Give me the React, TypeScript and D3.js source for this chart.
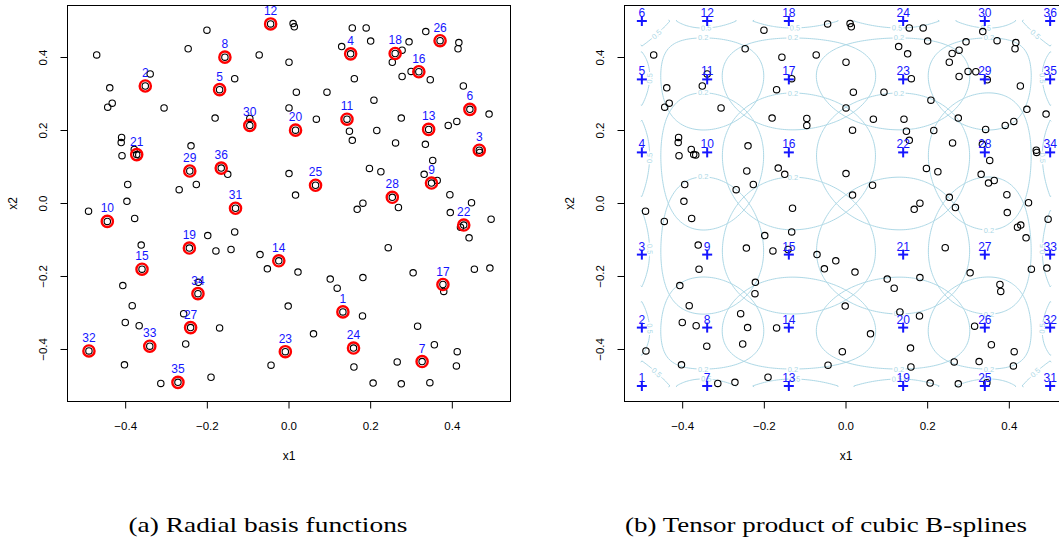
import React from "react";
import * as d3 from "d3";

const W = 1059;
const H = 544;
const DOMAIN: [number, number] = [-0.5425, 0.5425];
const TICKS = [-0.4, -0.2, 0, 0.2, 0.4];

// Radial basis centres (label = index + 1)
const centers: [number, number][] = [
  [0.132, -0.297], [-0.352, 0.322], [0.466, 0.146], [0.151, 0.41], [-0.17, 0.312],
  [0.443, 0.258], [0.326, -0.433], [-0.157, 0.401], [0.349, 0.056], [-0.445, -0.049],
  [0.142, 0.231], [-0.045, 0.492], [0.342, 0.203], [-0.025, -0.157], [-0.36, -0.18],
  [0.318, 0.361], [0.377, -0.222], [0.26, 0.411], [-0.244, -0.122], [0.016, 0.201],
  [-0.373, 0.134], [0.428, -0.059], [-0.009, -0.406], [0.158, -0.396], [0.065, 0.05],
  [0.37, 0.446], [-0.241, -0.34], [0.253, 0.017], [-0.243, 0.089], [-0.096, 0.214],
  [-0.131, -0.013], [-0.49, -0.404], [-0.341, -0.391], [-0.223, -0.247], [-0.272, -0.49],
  [-0.166, 0.097],
];

// Remaining observations
const points: [number, number][] = [
  [-0.471, 0.407], [-0.439, 0.317], [-0.433, 0.275], [-0.444, 0.264], [-0.34, 0.355],
  [-0.306, 0.262], [-0.247, 0.424], [-0.201, 0.475], [-0.073, 0.407], [0.0, 0.387],
  [-0.133, 0.342], [-0.181, 0.234], [-0.096, 0.233], [0.0, 0.262], [-0.41, 0.181],
  [-0.411, 0.167], [-0.409, 0.131], [-0.379, 0.148], [-0.368, 0.133], [-0.24, 0.158],
  [-0.15, 0.08], [0.0, 0.082], [-0.395, 0.052], [-0.269, 0.038], [-0.227, 0.052],
  [-0.397, 0.006],
  [0.01, 0.493], [0.013, 0.484], [0.018, 0.305], [0.067, 0.231], [0.093, 0.305],
  [0.155, 0.481], [0.189, 0.481], [0.129, 0.43], [0.2, 0.445], [0.16, 0.342],
  [0.208, 0.283], [0.148, 0.198], [0.155, 0.173], [0.215, 0.2], [0.277, 0.42],
  [0.294, 0.443], [0.253, 0.387], [0.335, 0.471], [0.416, 0.441], [0.414, 0.424],
  [0.299, 0.362], [0.277, 0.348], [0.346, 0.339], [0.427, 0.322], [0.49, 0.245],
  [0.275, 0.234], [0.39, 0.214], [0.411, 0.225], [0.261, 0.166], [0.334, 0.162],
  [0.467, 0.14], [0.352, 0.118], [0.197, 0.096], [0.225, 0.087], [0.331, 0.08],
  [0.363, 0.063], [0.394, 0.024], [0.016, 0.023],
  [-0.491, -0.021], [-0.378, -0.041], [-0.362, -0.114], [-0.199, -0.088], [-0.133, -0.078],
  [-0.179, -0.13], [-0.142, -0.126], [-0.071, -0.14], [-0.053, -0.179], [-0.407, -0.225],
  [-0.222, -0.216], [-0.384, -0.28], [-0.002, -0.281], [-0.401, -0.326], [-0.367, -0.335],
  [-0.258, -0.302], [-0.17, -0.341], [-0.253, -0.385], [-0.403, -0.442], [-0.044, -0.443],
  [-0.314, -0.493], [-0.191, -0.476],
  [0.181, 0.001], [0.167, -0.016], [0.268, -0.011], [0.447, 0.002], [0.395, -0.025],
  [0.441, -0.094], [0.495, -0.043], [0.243, -0.121], [0.022, -0.188], [0.101, -0.207],
  [0.118, -0.232], [0.181, -0.203], [0.304, -0.19], [0.379, -0.241], [0.454, -0.18],
  [0.492, -0.177], [0.18, -0.308], [0.315, -0.336], [0.06, -0.357], [0.356, -0.387],
  [0.412, -0.406], [0.41, -0.445], [0.265, -0.434], [0.159, -0.448], [0.206, -0.492],
  [0.275, -0.494], [0.345, -0.491], [0.42, -0.065],
];

// Marked locations of the tensor-product basis functions along each axis
const basisAtX = [-0.5, -0.34, -0.14, 0.14, 0.34, 0.5];
const basisAtY = [-0.5, -0.34, -0.14, 0.14, 0.34, 0.5];

// Clamped cubic B-spline knot sequence (6 basis functions per margin)
const splineKnots = [-0.5, -0.5, -0.5, -0.5, -1 / 6, 1 / 6, 0.5, 0.5, 0.5, 0.5];
const contourLevelEdge = 0.5;
const contourLevelInner = 0.2;
// interior basis functions whose contour label sits on the upper side of the ring
const labelOnTop = new Set([9, 10, 11, 15, 16, 17, 22, 23, 29]);

const captions = ["(a) Radial basis functions", "(b) Tensor product of cubic B-splines"];

const SANS = "'Liberation Sans', Arial, Helvetica, sans-serif";
const SERIF = "'Liberation Serif', 'Times New Roman', serif";
const LIGHTBLUE = "#ADD8E6";

const fmt = (v: number) => (v < -1e-9 ? "\u2212" : "") + Math.abs(v).toFixed(1);

function bspline(x: number, i: number, p: number, t: number[]): number {
  if (p === 0) {
    const last = t[t.length - 1];
    if (x >= last) return t[i] < t[i + 1] && t[i + 1] === last ? 1 : 0;
    return t[i] <= x && x < t[i + 1] ? 1 : 0;
  }
  let a = 0;
  let b = 0;
  const d1 = t[i + p] - t[i];
  if (d1 > 0) a = ((x - t[i]) / d1) * bspline(x, i, p - 1, t);
  const d2 = t[i + p + 1] - t[i + 1];
  if (d2 > 0) b = ((t[i + p + 1] - x) / d2) * bspline(x, i + 1, p - 1, t);
  return a + b;
}

type Pt = [number, number];
interface ContourItem {
  id: number;
  level: number;
  lines: Pt[][];
  label: { x: number; y: number; angle: number };
}

function segLens(l: Pt[]): number[] {
  const r: number[] = [];
  for (let k = 0; k < l.length - 1; k++) r.push(Math.hypot(l[k + 1][0] - l[k][0], l[k + 1][1] - l[k][1]));
  return r;
}

function buildContours(xs: d3.ScaleLinear<number, number>, ys: d3.ScaleLinear<number, number>): ContourItem[] {
  const G = 201;
  const step = 1 / (G - 1);
  const coords = d3.range(G).map((k) => (k === G - 1 ? 0.5 : -0.5 + k * step));
  const nb = splineKnots.length - 4;
  const B = d3.range(nb).map((i) => coords.map((v) => bspline(v, i, 3, splineKnots)));
  const toScreen = (p: number[]): Pt => [xs(-0.5 + (p[0] - 0.5) * step), ys(-0.5 + (p[1] - 0.5) * step)];
  const onEdge = (p: number[]) => p[0] <= 1e-6 || p[0] >= G - 1e-6 || p[1] <= 1e-6 || p[1] >= G - 1e-6;
  const out: ContourItem[] = [];
  for (let i = 0; i < nb; i++) {
    for (let j = 0; j < nb; j++) {
      const id = i * nb + j + 1;
      const edge = i === 0 || i === nb - 1 || j === 0 || j === nb - 1;
      const level = edge ? contourLevelEdge : contourLevelInner;
      const values = new Array(G * G);
      for (let r = 0; r < G; r++) for (let c = 0; c < G; c++) values[r * G + c] = B[i][c] * B[j][r];
      const geo = d3.contours().size([G, G]).thresholds([level])(values)[0];
      const lines: Pt[][] = [];
      for (const poly of geo.coordinates) {
        for (const ring of poly) {
          const n = ring.length - 1;
          let start = 0;
          for (let k = 0; k < n; k++) {
            if (onEdge(ring[k]) && onEdge(ring[k + 1])) {
              start = k + 1;
              break;
            }
          }
          let cur: Pt[] = [];
          for (let s = 0; s < n; s++) {
            const a = ring[(start + s) % n];
            const b = ring[(start + s + 1) % n];
            if (onEdge(a) && onEdge(b)) {
              if (cur.length > 1) lines.push(cur);
              cur = [];
              continue;
            }
            if (!cur.length) cur.push(toScreen(a));
            cur.push(toScreen(b));
          }
          if (cur.length > 1) lines.push(cur);
        }
      }
      let label = { x: 0, y: 0, angle: 0 };
      if (!edge) {
        const all = lines.flat();
        const top = labelOnTop.has(id);
        let best = all[0];
        for (const p of all) if (top ? p[1] < best[1] : p[1] > best[1]) best = p;
        label = { x: best[0], y: best[1], angle: 0 };
      } else if (lines.length) {
        const longest = lines.reduce((m, l) => (d3.sum(segLens(l)) > d3.sum(segLens(m)) ? l : m));
        const lens = segLens(longest);
        const half = d3.sum(lens) / 2;
        let acc = 0;
        for (let k = 0; k < lens.length; k++) {
          if (acc + lens[k] >= half) {
            const f = lens[k] ? (half - acc) / lens[k] : 0;
            const a = longest[k];
            const b = longest[k + 1];
            let ang = (Math.atan2(b[1] - a[1], b[0] - a[0]) * 180) / Math.PI;
            if (ang >= 90) ang -= 180;
            if (ang < -90) ang += 180;
            label = { x: a[0] + f * (b[0] - a[0]), y: a[1] + f * (b[1] - a[1]), angle: ang };
            break;
          }
          acc += lens[k];
        }
      }
      out.push({ id, level, lines, label });
    }
  }
  return out;
}

function Frame({ xs, ys }: { xs: d3.ScaleLinear<number, number>; ys: d3.ScaleLinear<number, number> }) {
  const [l, r] = xs.range();
  const [b, t] = ys.range();
  return (
    <g style={{ fontFamily: SANS }} fontSize={11.5} fill="#000">
      <rect x={l} y={t} width={r - l} height={b - t} fill="none" stroke="#000" strokeWidth={1} />
      <line x1={xs(TICKS[0])} x2={xs(TICKS[TICKS.length - 1])} y1={b} y2={b} stroke="#000" />
      {TICKS.map((v) => (
        <g key={"x" + v}>
          <line x1={xs(v)} x2={xs(v)} y1={b} y2={b + 7} stroke="#000" />
          <text x={xs(v)} y={b + 24} textAnchor="middle" dominantBaseline="central">
            {fmt(v)}
          </text>
        </g>
      ))}
      {TICKS.map((v) => (
        <g key={"y" + v}>
          <line x1={l - 7} x2={l} y1={ys(v)} y2={ys(v)} stroke="#000" />
          <text
            transform={`translate(${l - 24.5},${ys(v)}) rotate(-90)`}
            textAnchor="middle"
            dominantBaseline="central"
          >
            {fmt(v)}
          </text>
        </g>
      ))}
      <text x={(l + r) / 2} y={b + 54} textAnchor="middle" dominantBaseline="central" fontSize={12}>
        x1
      </text>
      <text
        transform={`translate(${l - 55},${(t + b) / 2}) rotate(-90)`}
        textAnchor="middle"
        dominantBaseline="central"
        fontSize={12}
      >
        x2
      </text>
    </g>
  );
}

export default function App() {
  const ys = d3.scaleLinear().domain(DOMAIN).range([401.5, 5.5]);
  const xA = d3.scaleLinear().domain(DOMAIN).range([67.5, 510.5]);
  const xB = d3.scaleLinear().domain(DOMAIN).range([624.5, 1067.5]);
  const contourItems = React.useMemo(() => buildContours(xB, ys), []);
  const line = (pts: Pt[]) => "M" + pts.map((p) => `${p[0].toFixed(2)},${p[1].toFixed(2)}`).join("L");
  const all = [...points, ...centers];

  return (
    <div style={{ position: "absolute", left: 0, top: 0 }}>
      <svg width={W} height={H} style={{ display: "block", background: "#fff" }}>
        {/* (a) radial basis functions */}
        <Frame xs={xA} ys={ys} />
        <g fill="none" stroke="#000" strokeWidth={1.1}>
          {all.map((p, k) => (
            <circle key={k} cx={xA(p[0])} cy={ys(p[1])} r={3.2} />
          ))}
        </g>
        <g fill="none" stroke="#FF0000" strokeWidth={2.4}>
          {centers.map((p, k) => (
            <circle key={k} cx={xA(p[0])} cy={ys(p[1])} r={5.6} />
          ))}
        </g>
        <g fill="#1515FF" style={{ fontFamily: SANS }} fontSize={12} textAnchor="middle">
          {centers.map((p, k) => (
            <text key={k} x={xA(p[0])} y={ys(p[1]) - 13} dominantBaseline="central">
              {k + 1}
            </text>
          ))}
        </g>

        {/* (b) tensor product of cubic B-splines */}
        <Frame xs={xB} ys={ys} />
        <g fill="none" stroke={LIGHTBLUE} strokeWidth={1}>
          {contourItems.map((c) => (
            <path key={c.id} d={c.lines.map(line).join("")} />
          ))}
        </g>
        <g style={{ fontFamily: SANS }} fontSize={7.5} fill={LIGHTBLUE} textAnchor="middle">
          {contourItems.map((c) => (
            <g key={c.id} transform={`translate(${c.label.x},${c.label.y}) rotate(${c.label.angle})`}>
              <rect x={-6.5} y={-3.5} width={13} height={7} fill="#fff" />
              <text dominantBaseline="central">{c.level.toFixed(1)}</text>
            </g>
          ))}
        </g>
        <g fill="none" stroke="#000" strokeWidth={1.1}>
          {all.map((p, k) => (
            <circle key={k} cx={xB(p[0])} cy={ys(p[1])} r={3.2} />
          ))}
        </g>
        <g stroke="#1515FF" strokeWidth={2}>
          {basisAtX.map((bx, i) =>
            basisAtY.map((by, j) => (
              <g key={`${i}-${j}`}>
                <line x1={xB(bx) - 5} x2={xB(bx) + 5} y1={ys(by)} y2={ys(by)} />
                <line x1={xB(bx)} x2={xB(bx)} y1={ys(by) - 5} y2={ys(by) + 5} />
              </g>
            ))
          )}
        </g>
        <g fill="#1515FF" style={{ fontFamily: SANS }} fontSize={12} textAnchor="middle">
          {basisAtX.map((bx, i) =>
            basisAtY.map((by, j) => (
              <text key={`${i}-${j}`} x={xB(bx)} y={ys(by) - 8} dominantBaseline="central">
                {i * basisAtY.length + j + 1}
              </text>
            ))
          )}
        </g>

        {/* captions */}
        <g style={{ fontFamily: SERIF }} fontSize={21.5} fill="#000">
          <text x={268} y={532} textAnchor="middle" textLength={279} lengthAdjust="spacingAndGlyphs">
            {captions[0]}
          </text>
          <text x={826} y={532} textAnchor="middle" textLength={402} lengthAdjust="spacingAndGlyphs">
            {captions[1]}
          </text>
        </g>
      </svg>
    </div>
  );
}
